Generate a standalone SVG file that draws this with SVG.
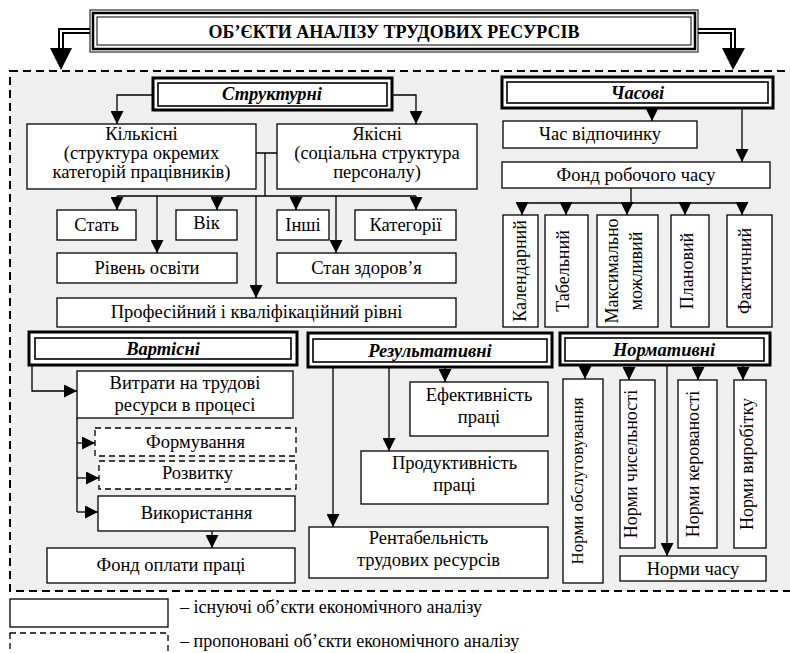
<svg xmlns="http://www.w3.org/2000/svg" width="790" height="653" viewBox="0 0 790 653">
<style>
text{font-family:'Liberation Serif','Times New Roman',serif;fill:#000}
.t{font-size:18.5px;text-anchor:middle}
.v{font-size:18px;text-anchor:middle}
.h{font-size:18.5px;font-weight:bold;font-style:italic;text-anchor:middle}
.ttl{font-size:18px;font-weight:bold;text-anchor:middle}
.lg{font-size:18px}
.b{fill:#fff;stroke:#000;stroke-width:1.3}
.d{fill:#fff;stroke:#000;stroke-width:1.3;stroke-dasharray:6,4}
.ho{fill:#fff;stroke:#000;stroke-width:3}
.hi{fill:none;stroke:#000;stroke-width:1.6}
.c{fill:none;stroke:#000;stroke-width:1.3}
.a{fill:none;stroke:#000;stroke-width:1.3;marker-end:url(#ah)}
</style>
<defs>
<marker id="ah" viewBox="0 0 10 10" refX="10" refY="5" markerWidth="13" markerHeight="13" markerUnits="userSpaceOnUse" orient="auto"><path d="M0,0 L10,5 L0,10 z" fill="#000"/></marker>
</defs>
<rect width="790" height="653" fill="#fff"/>
<rect x="10" y="71" width="800" height="520" fill="#efefef" stroke="#000" stroke-width="2" stroke-dasharray="8,5"/>

<g id="connectors">
<path d="M90,31 H61 V50" fill="none" stroke="#000" stroke-width="6"/>
<path d="M90,31 H61 V50" fill="none" stroke="#fff" stroke-width="2"/>
<polygon points="50,48 72,48 61,70" fill="#000"/>
<path d="M698,31 H733 V50" fill="none" stroke="#000" stroke-width="6"/>
<path d="M698,31 H733 V50" fill="none" stroke="#fff" stroke-width="2"/>
<polygon points="722,48 745,48 733,70" fill="#000"/>
<path class="a" d="M153,95 H117 V124"/>
<path class="a" d="M392,95 H416 V124"/>
<path class="c" d="M256,153 H277 M265,153 V196 M117,196 H416"/>
<path class="a" d="M117,196 V210"/>
<path class="a" d="M157,196 V253"/>
<path class="a" d="M217,196 V210"/>
<path class="a" d="M256,196 V298"/>
<path class="a" d="M296,196 V210"/>
<path class="a" d="M336,196 V253"/>
<path class="a" d="M416,196 V210"/>
<path class="a" d="M652,108 V121"/>
<path class="a" d="M742,108 V162"/>
<path class="c" d="M631,188 V203 M522,203 H742"/>
<path class="a" d="M522,203 V215"/>
<path class="a" d="M566,203 V215"/>
<path class="a" d="M627,203 V215"/>
<path class="a" d="M685,203 V215"/>
<path class="a" d="M742,203 V215"/>
<path class="a" d="M32,365 V391 H77"/>
<path class="c" d="M77,418 V512"/>
<path class="a" d="M77,443 H95"/>
<path class="a" d="M77,478 H99"/>
<path class="a" d="M77,512 H98"/>
<path class="a" d="M212,531 V548"/>
<path class="a" d="M333,367 V527"/>
<path class="a" d="M389,367 V451"/>
<path class="a" d="M445,367 V382"/>
<path class="a" d="M585,365 V379"/>
<path class="a" d="M629,365 V380"/>
<path class="a" d="M698,365 V380"/>
<path class="a" d="M743,365 V380"/>
<path class="a" d="M667,365 V556"/>
</g>

<g id="title">
<rect x="90" y="10" width="608" height="42" fill="#fff" stroke="#000" stroke-width="1"/>
<rect x="93" y="13" width="602" height="36" fill="none" stroke="#000" stroke-width="2.5"/>
<rect x="97" y="17" width="594" height="28" fill="none" stroke="#000" stroke-width="1"/>
<text class="ttl" x="394" y="37.5">ОБ’ЄКТИ АНАЛІЗУ ТРУДОВИХ РЕСУРСІВ</text>
</g>

<g id="strukturni">
<rect class="ho" x="153" y="78" width="239" height="32"/>
<rect class="hi" x="158" y="83" width="229" height="23"/>
<text class="h" x="272" y="100">Структурні</text>
</g>
<g id="kilkisni">
<rect class="b" x="27" y="124" width="229" height="65"/>
<text class="t" x="141.5" y="140">Кількісні</text>
<text class="t" x="141.5" y="159">(структура окремих</text>
<text class="t" x="141.5" y="178">категорій працівників)</text>
</g>
<g id="yakisni">
<rect class="b" x="277" y="124" width="200" height="65"/>
<text class="t" x="377" y="140">Якісні</text>
<text class="t" x="377" y="159">(соціальна структура</text>
<text class="t" x="377" y="178">персоналу)</text>
</g>
<g id="stat"><rect class="b" x="57" y="210" width="79" height="30"/><text class="t" x="96.5" y="231">Стать</text></g>
<g id="vik"><rect class="b" x="176" y="210" width="61" height="30"/><text class="t" x="206.5" y="229">Вік</text></g>
<g id="inshi"><rect class="b" x="277" y="210" width="52" height="30"/><text class="t" x="303" y="231">Інші</text></g>
<g id="katehorii"><rect class="b" x="355" y="210" width="101" height="30"/><text class="t" x="405.5" y="231">Категорії</text></g>
<g id="riven-osvity"><rect class="b" x="57" y="253" width="180" height="30"/><text class="t" x="147" y="274">Рівень освіти</text></g>
<g id="stan-zdorovia"><rect class="b" x="277" y="253" width="179" height="30"/><text class="t" x="366.5" y="274">Стан здоров’я</text></g>
<g id="profesiinyi"><rect class="b" x="57" y="298" width="399" height="29"/><text class="t" x="256.5" y="318">Професійний і кваліфікаційний рівні</text></g>

<g id="chasovi">
<rect class="ho" x="502" y="77" width="271" height="31"/>
<rect class="hi" x="507" y="82" width="261" height="21"/>
<text class="h" x="637.5" y="98.5">Часові</text>
</g>
<g id="chas-vidpochynku"><rect class="b" x="503" y="121" width="194" height="27"/><text class="t" x="600" y="140">Час відпочинку</text></g>
<g id="fond-robochoho-chasu"><rect class="b" x="502" y="162" width="268" height="26"/><text class="t" x="636" y="181">Фонд робочого часу</text></g>
<g id="kalendarnyi"><rect class="b" x="503" y="215" width="35" height="112"/><text class="v" transform="translate(526,271) rotate(-90)">Календарний</text></g>
<g id="tabelnyi"><rect class="b" x="545" y="215" width="43" height="112"/><text class="v" transform="translate(569,271) rotate(-90)">Табельний</text></g>
<g id="maksymalno"><rect class="b" x="597" y="215" width="61" height="112"/><text class="v" transform="translate(618,271) rotate(-90)">Максимально</text><text class="v" transform="translate(642,271) rotate(-90)">можливий</text></g>
<g id="planovyi"><rect class="b" x="671" y="215" width="38" height="112"/><text class="v" transform="translate(693,271) rotate(-90)">Плановий</text></g>
<g id="faktychnyi"><rect class="b" x="727" y="215" width="45" height="112"/><text class="v" transform="translate(751,271) rotate(-90)">Фактичний</text></g>

<g id="vartisni">
<rect class="ho" x="29" y="332" width="268" height="33"/>
<rect class="hi" x="35" y="338" width="256" height="21"/>
<text class="h" x="163" y="355">Вартісні</text>
</g>
<g id="vytraty"><rect class="b" x="77" y="371" width="216" height="47"/><text class="t" x="185" y="389">Витрати на трудові</text><text class="t" x="185" y="411">ресурси в процесі</text></g>
<g id="formuvannia"><rect class="d" x="95" y="428" width="201" height="28"/><text class="t" x="195.5" y="448">Формування</text></g>
<g id="rozvytku"><rect class="d" x="99" y="461" width="197" height="28"/><text class="t" x="197.5" y="479">Розвитку</text></g>
<g id="vykorystannia"><rect class="b" x="98" y="496" width="197" height="35"/><text class="t" x="196.5" y="519">Використання</text></g>
<g id="fond-oplaty"><rect class="b" x="47" y="548" width="248" height="35"/><text class="t" x="171" y="571">Фонд оплати праці</text></g>

<g id="rezultatyvni">
<rect class="ho" x="308" y="333" width="244" height="34"/>
<rect class="hi" x="313" y="339" width="234" height="23"/>
<text class="h" x="430" y="356.5">Результативні</text>
</g>
<g id="efektyvnist"><rect class="b" x="410" y="382" width="138" height="54"/><text class="t" x="479" y="401">Ефективність</text><text class="t" x="479" y="423">праці</text></g>
<g id="produktyvnist"><rect class="b" x="361" y="451" width="187" height="53"/><text class="t" x="454.5" y="469">Продуктивність</text><text class="t" x="454.5" y="491">праці</text></g>
<g id="rentabelnist"><rect class="b" x="309" y="527" width="239" height="51"/><text class="t" x="428.5" y="544">Рентабельність</text><text class="t" x="428.5" y="566">трудових ресурсів</text></g>

<g id="normatyvni">
<rect class="ho" x="560" y="333" width="210" height="32"/>
<rect class="hi" x="565" y="338" width="199" height="23"/>
<text class="h" x="664" y="355.5">Нормативні</text>
</g>
<g id="normy-obsluh"><rect class="b" x="563" y="379" width="40" height="204"/><text class="v" style="font-size:17px" transform="translate(583,481) rotate(-90)">Норми обслуговування</text></g>
<g id="normy-chyselnosti"><rect class="b" x="620" y="380" width="35" height="168"/><text class="v" transform="translate(637,464) rotate(-90)">Норми чисельності</text></g>
<g id="normy-kerovanosti"><rect class="b" x="678" y="380" width="39" height="168"/><text class="v" transform="translate(699,464) rotate(-90)">Норми керованості</text></g>
<g id="normy-vyrobitku"><rect class="b" x="734" y="380" width="32" height="168"/><text class="v" transform="translate(753,464) rotate(-90)">Норми виробітку</text></g>
<g id="normy-chasu"><rect class="b" x="620" y="556" width="146" height="25"/><text class="t" x="693" y="574.5">Норми часу</text></g>

<g id="legend">
<rect class="b" x="10" y="599" width="158" height="28"/>
<text class="lg" x="180" y="613">– існуючі об’єкти економічного аналізу</text>
<rect class="d" x="10" y="633" width="158" height="30"/>
<text class="lg" x="180" y="647">– пропоновані об’єкти економічного аналізу</text>
</g>
</svg>
